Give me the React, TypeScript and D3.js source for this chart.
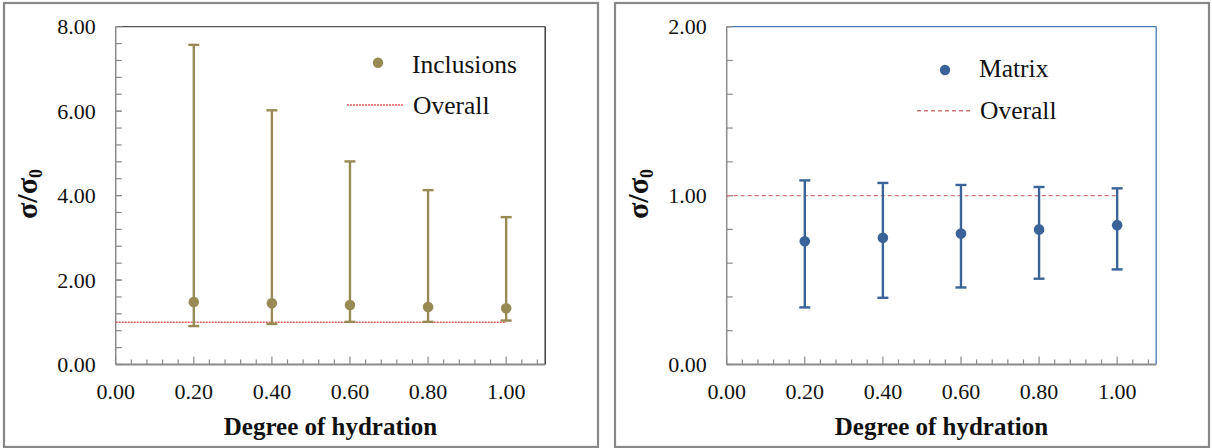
import React from "react";
import * as d3 from "d3";

const hydration = [0.2, 0.4, 0.6, 0.8, 1.0];
const inclusionsMean = [1.48, 1.45, 1.41, 1.36, 1.33];
const inclusionsUpper = [7.57, 6.02, 4.81, 4.13, 3.49];
const inclusionsLower = [0.91, 0.96, 1.01, 1.01, 1.04];
const matrixMean = [0.73, 0.75, 0.775, 0.8, 0.825];
const matrixUpper = [1.09, 1.075, 1.063, 1.051, 1.043];
const matrixLower = [0.338, 0.395, 0.456, 0.508, 0.563];
const overallX = [0, 1.0];
const overallY = [1, 1];
const xTicks = [0, 0.2, 0.4, 0.6, 0.8, 1.0];
const leftYTicks = [0, 2, 4, 6, 8];
const rightYTicks = [0, 1, 2];

const FONT = "'Liberation Serif', 'Times New Roman', serif";

type PanelProps = {
  ox: number;
  mean: number[];
  upper: number[];
  lower: number[];
  yMax: number;
  yTicks: number[];
  yMinorStep: number;
  color: string;
  label: string;
  frameColorTop: string;
  frameColorRight: string;
  overallColor: string;
  overallDash: string;
  legendDot: [number, number];
  legendText1: [number, number];
  legendLine: [number, number, number];
  legendText2: [number, number];
};

function Panel(p: PanelProps) {
  const left = p.ox + 111.7;
  const right = left + 429.5;
  const top = 26.7;
  const bottom = 364.5;
  const x = d3.scaleLinear().domain([0, 1.1]).range([left, right]);
  const y = d3.scaleLinear().domain([0, p.yMax]).range([bottom, top]);
  const xMinor = d3.range(1, 28).map((i) => i * 0.04).filter((v) => Math.abs(v / 0.2 - Math.round(v / 0.2)) > 1e-6);
  const yMinor = d3.range(1, Math.round(p.yMax / p.yMinorStep)).map((i) => i * p.yMinorStep);
  const fmt = d3.format(".2f");
  const overallLine = d3
    .line<number>()
    .x((_, i) => x(overallX[i]))
    .y((d) => y(d))(overallY);
  const cx = (left + right) / 2;
  return (
    <g>
      <rect x={p.ox} y={3} width={594} height={444} fill="#fff" stroke="#888" strokeWidth={2.2} />
      <line x1={left} y1={top} x2={right} y2={top} stroke={p.frameColorTop} strokeWidth={1.3} />
      <line x1={right} y1={top} x2={right} y2={bottom} stroke={p.frameColorRight} strokeWidth={1.3} />
      <line x1={left} y1={top} x2={left} y2={bottom} stroke="#8a8a8a" strokeWidth={1.5} />
      <line x1={left} y1={bottom} x2={right} y2={bottom} stroke="#8a8a8a" strokeWidth={1.8} />
      {yMinor.concat(p.yTicks).map((v, i) => (
        <line key={"ym" + i} x1={left} x2={left + 6} y1={y(v)} y2={y(v)} stroke="#8a8a8a" strokeWidth={1.2} />
      ))}
      {xMinor.map((v, i) => (
        <line key={"xm" + i} x1={x(v)} x2={x(v)} y1={bottom} y2={bottom - 5} stroke="#8a8a8a" strokeWidth={1.2} />
      ))}
      {xTicks.map((v, i) => (
        <line key={"xM" + i} x1={x(v)} x2={x(v)} y1={bottom} y2={bottom - 8} stroke="#8a8a8a" strokeWidth={1.2} />
      ))}
      {xTicks.map((v, i) => (
        <text key={"xl" + i} x={x(v)} y={398.5} textAnchor="middle" fontFamily={FONT} fontSize={22} fill="#111">
          {fmt(v)}
        </text>
      ))}
      {p.yTicks.map((v, i) => (
        <text key={"yl" + i} x={left - 20} y={y(v) + 7.5} textAnchor="end" fontFamily={FONT} fontSize={22} fill="#111">
          {fmt(v)}
        </text>
      ))}
      <path d={overallLine || ""} fill="none" stroke={p.overallColor} strokeWidth={1.4} strokeDasharray={p.overallDash} />
      {hydration.map((h, i) => (
        <g key={"eb" + i} stroke={p.color} strokeWidth={2.4}>
          <line x1={x(h)} x2={x(h)} y1={y(p.upper[i])} y2={y(p.lower[i])} />
          <line x1={x(h) - 5.5} x2={x(h) + 5.5} y1={y(p.upper[i])} y2={y(p.upper[i])} />
          <line x1={x(h) - 5.5} x2={x(h) + 5.5} y1={y(p.lower[i])} y2={y(p.lower[i])} />
        </g>
      ))}
      {hydration.map((h, i) => (
        <circle key={"pt" + i} cx={x(h)} cy={y(p.mean[i])} r={5.3} fill={p.color} />
      ))}
      <circle cx={p.legendDot[0]} cy={p.legendDot[1]} r={5.2} fill={p.color} />
      <text x={p.legendText1[0]} y={p.legendText1[1]} fontFamily={FONT} fontSize={25.5} fill="#111">
        {p.label}
      </text>
      <line
        x1={p.legendLine[0]}
        x2={p.legendLine[1]}
        y1={p.legendLine[2]}
        y2={p.legendLine[2]}
        stroke={p.overallColor}
        strokeWidth={1.4}
        strokeDasharray={p.overallDash}
      />
      <text x={p.legendText2[0]} y={p.legendText2[1]} fontFamily={FONT} fontSize={25.5} fill="#111">
        Overall
      </text>
      <text x={cx} y={435} textAnchor="middle" fontFamily={FONT} fontSize={25} fontWeight="bold" fill="#111">
        Degree of hydration
      </text>
      <text
        transform={`translate(${p.ox + 33},194) rotate(-90)`}
        textAnchor="middle"
        fontFamily={FONT}
        fontSize={30}
        fontWeight="bold"
        fill="#111"
      >
        σ/σ<tspan fontSize={18} dy={5}>0</tspan>
      </text>
    </g>
  );
}

export default function App() {
  return (
    <svg width={1212} height={448} style={{ position: "absolute", left: 0, top: 0, background: "#fff" }}>
      <rect width={1212} height={448} fill="#fff" />
      <Panel
        ox={4}
        mean={inclusionsMean}
        upper={inclusionsUpper}
        lower={inclusionsLower}
        yMax={8}
        yTicks={leftYTicks}
        yMinorStep={0.4}
        color="#988a55"
        label="Inclusions"
        frameColorTop="#555"
        frameColorRight="#222"
        overallColor="#e05a5a"
        overallDash="2,1"
        legendDot={[378, 62.7]}
        legendText1={[412, 73]}
        legendLine={[347, 403, 105]}
        legendText2={[413, 114]}
      />
      <Panel
        ox={615}
        mean={matrixMean}
        upper={matrixUpper}
        lower={matrixLower}
        yMax={2}
        yTicks={rightYTicks}
        yMinorStep={0.2}
        color="#3a6499"
        label="Matrix"
        frameColorTop="#4a78b4"
        frameColorRight="#4a78b4"
        overallColor="#d27676"
        overallDash="4,3"
        legendDot={[945, 70]}
        legendText1={[979, 77.3]}
        legendLine={[917, 973, 110.7]}
        legendText2={[980, 119]}
      />
    </svg>
  );
}
